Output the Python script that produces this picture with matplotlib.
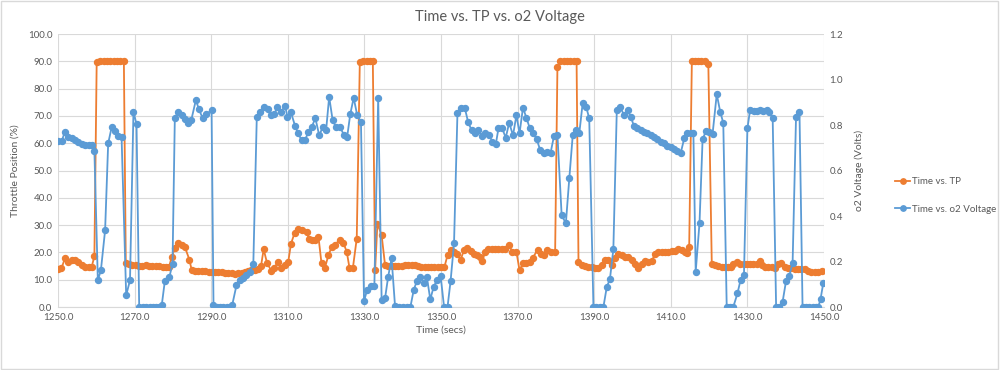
import matplotlib
matplotlib.use("Agg")
import matplotlib.pyplot as plt
from matplotlib.patches import Rectangle
from matplotlib.ticker import FormatStrFormatter, MultipleLocator

plt.rcParams['font.family'] = ['Lato', 'DejaVu Sans']

# Throttle position samples (secs, %)
tp_time = [
    1250.0, 1250.9, 1251.8, 1252.7, 1253.6, 1254.4, 1255.3, 1256.2, 1257.1, 1258.0,
    1258.8, 1259.5, 1260.1, 1261.0, 1261.9, 1262.8, 1263.6, 1264.5, 1265.4, 1266.3,
    1267.2, 1267.7, 1268.6, 1269.4, 1270.3, 1271.2, 1272.0, 1272.9, 1273.8, 1274.6,
    1275.5, 1276.4, 1277.3, 1278.1, 1279.0, 1279.7, 1280.5, 1281.4, 1282.3, 1283.1,
    1284.3, 1284.9, 1285.8, 1286.6, 1287.5, 1288.4, 1289.3, 1290.1, 1291.0, 1291.9,
    1292.7, 1293.6, 1294.5, 1295.4, 1296.2, 1297.1, 1298.0, 1298.8, 1299.7, 1300.5,
    1301.4, 1302.3, 1303.0, 1303.7, 1304.6, 1305.7, 1306.4, 1307.4, 1308.3, 1309.2,
    1310.1, 1310.8, 1311.8, 1312.7, 1313.8, 1314.9, 1315.5, 1316.4, 1317.2, 1318.0,
    1318.8, 1319.7, 1320.6, 1321.5, 1322.3, 1323.5, 1324.5, 1325.4, 1326.1, 1327.0,
    1328.0, 1328.8, 1329.7, 1330.6, 1331.5, 1332.2, 1332.8, 1333.4, 1334.5, 1335.4,
    1336.2, 1337.1, 1337.9, 1338.8, 1339.7, 1340.5, 1341.4, 1342.3, 1343.1, 1344.0,
    1344.9, 1345.7, 1346.6, 1347.5, 1348.3, 1349.2, 1350.1, 1350.9, 1351.7, 1352.5,
    1353.4, 1354.3, 1355.1, 1356.0, 1356.9, 1357.8, 1358.6, 1359.5, 1360.2, 1360.8,
    1361.5, 1362.4, 1363.2, 1364.1, 1365.0, 1365.8, 1366.7, 1367.8, 1368.6, 1369.7,
    1370.5, 1371.4, 1372.3, 1373.2, 1374.0, 1375.2, 1376.0, 1376.9, 1377.8, 1378.8,
    1379.8, 1380.4, 1381.2, 1382.1, 1382.9, 1383.8, 1384.6, 1385.4, 1385.9, 1386.7,
    1387.6, 1388.5, 1389.4, 1390.2, 1391.1, 1392.0, 1392.8, 1393.7, 1394.6, 1395.4,
    1396.3, 1397.2, 1398.0, 1398.9, 1399.8, 1400.7, 1401.5, 1402.4, 1403.3, 1404.1,
    1405.0, 1405.9, 1406.7, 1407.6, 1408.5, 1409.3, 1410.2, 1411.1, 1412.0, 1412.8,
    1413.7, 1414.2, 1414.8, 1415.5, 1416.3, 1417.2, 1418.0, 1418.9, 1419.8, 1420.7,
    1421.5, 1422.4, 1423.3, 1424.1, 1425.0, 1425.8, 1426.3, 1427.2, 1428.1, 1429.0,
    1429.8, 1430.7, 1431.5, 1432.4, 1433.2, 1433.9, 1434.6, 1435.5, 1436.3, 1437.2,
    1438.1, 1438.9, 1439.8, 1440.7, 1441.5, 1442.4, 1443.3, 1444.1, 1445.0, 1445.9,
    1446.7, 1447.6, 1448.5, 1449.4,
]
tp_value = [
    14.0, 14.2, 17.8, 16.6, 17.2, 17.2, 16.5, 15.5, 14.8, 14.8,
    14.8, 18.6, 89.6, 90.0, 90.0, 90.0, 90.0, 90.0, 90.0, 90.0,
    90.0, 16.0, 15.7, 15.5, 15.3, 15.2, 15.0, 15.6, 15.2, 15.0,
    15.0, 15.0, 14.8, 14.8, 14.8, 18.4, 21.5, 23.3, 22.7, 22.1,
    17.4, 13.6, 13.4, 13.4, 13.3, 13.2, 13.0, 13.0, 12.9, 12.8,
    12.9, 12.6, 12.6, 12.4, 12.3, 12.5, 12.6, 13.0, 13.3, 13.6,
    13.5, 13.8, 15.0, 21.2, 16.0, 13.4, 14.3, 16.4, 14.3, 15.5,
    16.4, 23.0, 27.3, 28.6, 28.2, 27.5, 25.1, 24.5, 24.5, 25.8,
    16.0, 14.4, 19.0, 22.1, 22.7, 24.7, 23.6, 20.2, 14.4, 14.4,
    25.1, 89.6, 90.0, 90.0, 90.0, 90.0, 13.6, 30.6, 26.3, 15.3,
    15.0, 15.0, 15.0, 15.0, 15.0, 15.3, 15.5, 15.5, 15.3, 15.0,
    14.7, 14.7, 14.7, 14.7, 14.7, 14.7, 14.7, 14.7, 19.0, 20.9,
    20.2, 19.3, 17.2, 20.9, 21.5, 20.6, 19.6, 19.0, 18.4, 16.8,
    20.2, 21.1, 21.3, 21.3, 21.3, 21.3, 21.3, 22.7, 20.2, 20.2,
    13.5, 16.0, 16.0, 16.6, 18.1, 21.0, 19.6, 19.0, 21.0, 20.2,
    20.2, 88.0, 90.0, 90.0, 90.0, 90.0, 90.0, 90.0, 16.6, 15.3,
    15.0, 14.7, 14.7, 14.5, 14.2, 15.3, 17.1, 17.4, 15.3, 17.8,
    19.4, 19.0, 18.4, 18.4, 17.4, 15.9, 14.2, 15.9, 16.8, 16.5,
    16.7, 19.6, 20.2, 20.2, 20.2, 20.2, 20.4, 20.4, 21.1, 20.8,
    20.2, 19.8, 22.1, 90.0, 90.0, 90.0, 90.0, 90.0, 89.0, 15.9,
    15.3, 15.0, 14.7, 14.7, 14.7, 14.7, 15.9, 16.5, 15.9, 15.7,
    15.7, 15.7, 15.7, 15.7, 16.8, 15.3, 14.7, 14.7, 14.7, 14.5,
    15.9, 16.1, 14.7, 14.2, 14.2, 14.0, 14.0, 13.8, 13.8, 13.4,
    13.0, 12.8, 13.0, 13.2,
]

# o2 sensor samples (secs, volts)
o2_time = [
    1250.1, 1251.0, 1251.8, 1252.7, 1253.6, 1254.4, 1255.3, 1256.2, 1257.1, 1258.0,
    1258.8, 1259.5, 1260.4, 1261.2, 1262.3, 1263.1, 1264.0, 1264.9, 1265.7, 1266.6,
    1267.8, 1268.8, 1269.7, 1270.5, 1271.2, 1272.1, 1273.0, 1273.9, 1274.7, 1275.6,
    1276.5, 1277.1, 1277.9, 1279.1, 1279.9, 1280.5, 1281.4, 1282.3, 1283.1, 1284.0,
    1284.8, 1286.0, 1286.8, 1287.8, 1288.7, 1290.1, 1290.6, 1291.4, 1292.3, 1293.2,
    1294.0, 1294.9, 1295.5, 1296.6, 1297.4, 1298.3, 1299.2, 1300.1, 1301.0, 1301.9,
    1302.7, 1303.8, 1304.7, 1305.5, 1306.4, 1307.3, 1308.2, 1309.3, 1309.9, 1310.8,
    1311.9, 1312.7, 1313.6, 1314.5, 1315.4, 1316.2, 1317.2, 1318.2, 1319.1, 1320.0,
    1320.8, 1321.7, 1322.6, 1323.7, 1324.6, 1325.5, 1326.3, 1327.2, 1328.1, 1329.1,
    1329.9, 1330.7, 1331.6, 1332.6, 1333.6, 1334.5, 1335.4, 1336.2, 1337.1, 1338.0,
    1339.1, 1340.0, 1341.0, 1342.0, 1342.9, 1343.7, 1344.6, 1345.5, 1346.3, 1347.2,
    1348.1, 1349.0, 1349.9, 1350.8, 1351.7, 1352.5, 1353.4, 1354.3, 1355.1, 1356.2,
    1357.1, 1358.0, 1358.9, 1359.7, 1360.6, 1361.5, 1362.5, 1363.4, 1364.3, 1365.0,
    1366.0, 1366.9, 1367.8, 1368.8, 1369.7, 1370.5, 1371.4, 1372.3, 1373.2, 1374.1,
    1375.0, 1375.9, 1376.8, 1377.7, 1378.6, 1379.5, 1380.4, 1381.5, 1382.6, 1383.5,
    1384.4, 1385.2, 1386.1, 1387.0, 1387.9, 1388.7, 1389.8, 1390.6, 1391.5, 1392.4,
    1393.3, 1394.1, 1395.0, 1395.9, 1396.7, 1397.8, 1398.7, 1399.5, 1400.4, 1401.3,
    1402.1, 1403.0, 1403.9, 1404.7, 1405.6, 1406.5, 1407.4, 1408.2, 1409.1, 1410.0,
    1410.8, 1411.7, 1412.6, 1413.5, 1414.3, 1415.2, 1415.9, 1416.5, 1417.5, 1418.3,
    1419.2, 1420.1, 1420.9, 1422.0, 1422.9, 1423.7, 1424.6, 1425.5, 1426.3, 1427.4,
    1428.2, 1429.1, 1430.0, 1430.7, 1431.6, 1432.4, 1433.3, 1434.2, 1435.0, 1435.7,
    1436.6, 1437.5, 1438.3, 1439.2, 1440.1, 1440.9, 1441.8, 1442.7, 1443.6, 1444.4,
    1445.3, 1446.2, 1447.0, 1447.9, 1448.5, 1449.1, 1449.8,
]
o2_value = [
    0.731, 0.731, 0.771, 0.746, 0.742, 0.734, 0.727, 0.717, 0.712, 0.712,
    0.712, 0.687, 0.118, 0.162, 0.338, 0.719, 0.790, 0.775, 0.752, 0.746,
    0.052, 0.118, 0.858, 0.804, 0.000, 0.000, 0.000, 0.000, 0.000, 0.000,
    0.000, 0.010, 0.115, 0.133, 0.191, 0.829, 0.857, 0.844, 0.825, 0.807,
    0.822, 0.910, 0.869, 0.829, 0.847, 0.866, 0.010, 0.000, 0.000, 0.000,
    0.000, 0.000, 0.010, 0.096, 0.118, 0.129, 0.141, 0.155, 0.191, 0.834,
    0.858, 0.878, 0.869, 0.844, 0.847, 0.878, 0.858, 0.884, 0.837, 0.857,
    0.796, 0.763, 0.734, 0.734, 0.771, 0.790, 0.830, 0.755, 0.790, 0.777,
    0.924, 0.822, 0.790, 0.790, 0.758, 0.748, 0.847, 0.920, 0.845, 0.815,
    0.026, 0.075, 0.092, 0.092, 0.920, 0.030, 0.040, 0.133, 0.214, 0.004,
    0.000, 0.000, 0.000, 0.000, 0.077, 0.114, 0.133, 0.104, 0.133, 0.034,
    0.090, 0.120, 0.138, 0.000, 0.000, 0.114, 0.280, 0.855, 0.876, 0.876,
    0.812, 0.777, 0.763, 0.777, 0.752, 0.767, 0.758, 0.727, 0.715, 0.785,
    0.785, 0.744, 0.810, 0.755, 0.844, 0.763, 0.876, 0.832, 0.785, 0.766,
    0.737, 0.690, 0.677, 0.683, 0.677, 0.752, 0.756, 0.404, 0.368, 0.566,
    0.756, 0.778, 0.763, 0.898, 0.881, 0.829, 0.000, 0.000, 0.000, 0.000,
    0.090, 0.122, 0.254, 0.866, 0.881, 0.844, 0.866, 0.837, 0.796, 0.785,
    0.778, 0.771, 0.766, 0.756, 0.746, 0.737, 0.727, 0.719, 0.709, 0.702,
    0.693, 0.687, 0.678, 0.741, 0.763, 0.763, 0.763, 0.155, 0.371, 0.737,
    0.775, 0.771, 0.760, 0.936, 0.858, 0.810, 0.000, 0.000, 0.000, 0.060,
    0.118, 0.140, 0.785, 0.866, 0.863, 0.863, 0.866, 0.862, 0.866, 0.858,
    0.829, 0.000, 0.000, 0.024, 0.116, 0.136, 0.193, 0.837, 0.858, 0.000,
    0.000, 0.000, 0.000, 0.000, 0.000, 0.035, 0.105,
]

x_ticks = [1250, 1270, 1290, 1310, 1330, 1350, 1370, 1390, 1410, 1430, 1450]

ORANGE = '#ED7D31'
BLUE = '#5B9BD5'
TEXT = '#595959'
GRID = '#D9D9D9'

fig = plt.figure(figsize=(10, 3.7), dpi=100)
ax = fig.add_axes([0.058, 0.170, 0.766, 0.738])
ax2 = ax.twinx()

# chart border like excel
fig.patches.append(Rectangle((0.001, 0.002), 0.997, 0.995, transform=fig.transFigure,
                             fill=False, edgecolor=GRID, linewidth=1))

l1, = ax.plot(tp_time, tp_value, color=ORANGE, linewidth=1.3, marker='o',
              markersize=4.3, label='Time vs. TP')
l2, = ax2.plot(o2_time, o2_value, color=BLUE, linewidth=1.3, marker='o',
               markersize=4.3, label='Time vs. o2 Voltage')

ax.set_xlim(1250, 1450)
ax.set_ylim(0, 100)
ax2.set_ylim(0, 1.2)
ax.set_xticks(x_ticks)
ax.yaxis.set_major_locator(MultipleLocator(10))
ax2.yaxis.set_major_locator(MultipleLocator(0.2))
ax.xaxis.set_major_formatter(FormatStrFormatter('%.1f'))
ax.yaxis.set_major_formatter(FormatStrFormatter('%.1f'))
ax2.yaxis.set_major_formatter(FormatStrFormatter('%.1f'))

ax.grid(True, color=GRID, linewidth=0.8)
ax.set_axisbelow(True)
for a in (ax, ax2):
    for s in a.spines.values():
        s.set_visible(False)
    a.tick_params(length=0, labelsize=7, colors=TEXT, pad=4)
ax.spines['bottom'].set_visible(True)
ax.spines['bottom'].set_color(GRID)

ax.set_xlabel('Time (secs)', fontsize=7.5, color=TEXT, labelpad=3)
ax.set_ylabel('Throttle Position (%)', fontsize=7.5, color=TEXT, labelpad=6)
ax2.set_ylabel('o2 Voltage (Volts)', fontsize=7.5, color=TEXT, labelpad=8)

fig.text(0.5, 0.955, 'Time vs. TP vs. o2 Voltage', ha='center', va='center',
         fontsize=10.5, color=TEXT)

fig.legend(handles=[l1, l2], loc='center left', bbox_to_anchor=(0.886, 0.472),
           frameon=False, fontsize=7, labelcolor=TEXT, handlelength=1.6,
           handletextpad=0.2, labelspacing=1.9, markerscale=0.9)

plt.savefig('out.png', dpi=100)
